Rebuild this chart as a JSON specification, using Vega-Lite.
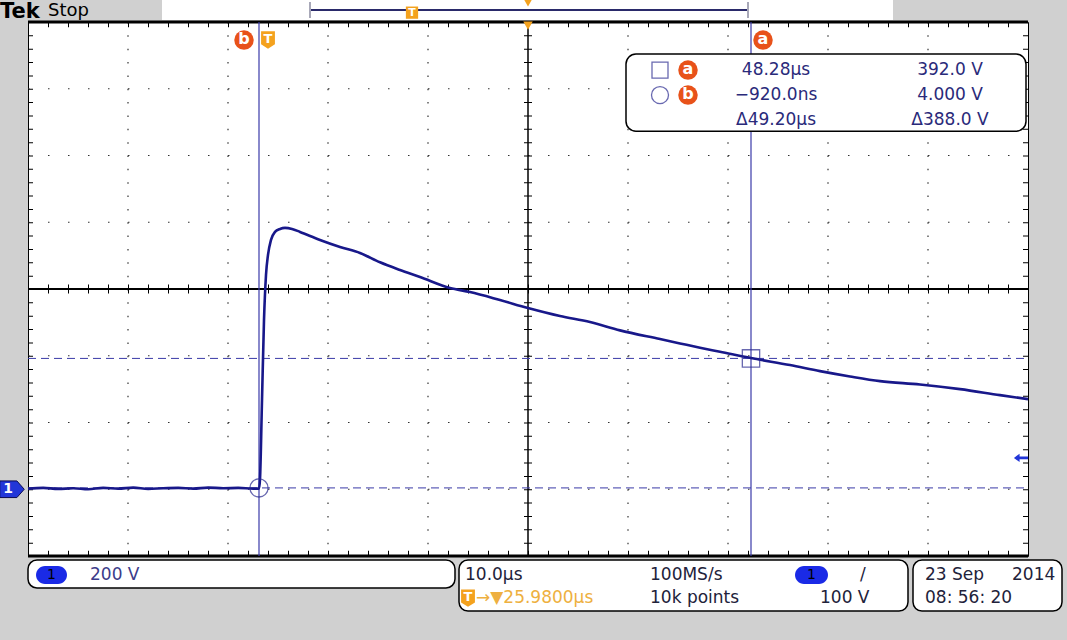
{
  "$schema": "https://vega.github.io/schema/vega-lite/v6.json",
  "autosize": "none",
  "width": 1000,
  "height": 534,
  "padding": {"left": 28, "top": 22, "right": 39, "bottom": 84},
  "background": "#d0d0d0",
  "config": {"view": {"fill": "white", "stroke": "black", "strokeWidth": 1}, "text": {"font": "DejaVu Sans"}},
  "datasets": {
    "one": [{}],
    "wave": [
      {"t": -24.02, "v": 2}, {"t": -22.5, "v": 4}, {"t": -21, "v": 1}, {"t": -19.5, "v": 3}, {"t": -18, "v": 0},
      {"t": -16.5, "v": 4}, {"t": -15, "v": 2}, {"t": -13.5, "v": 5}, {"t": -12, "v": 1}, {"t": -10.5, "v": 3},
      {"t": -9, "v": 4}, {"t": -7.5, "v": 2}, {"t": -6, "v": 5}, {"t": -4.5, "v": 3}, {"t": -3, "v": 4},
      {"t": -1.5, "v": 2}, {"t": -0.92, "v": 2}, {"t": -0.82, "v": 30}, {"t": -0.62, "v": 267}, {"t": -0.42, "v": 507},
      {"t": -0.22, "v": 642}, {"t": -0.02, "v": 702}, {"t": 0.28, "v": 747}, {"t": 0.68, "v": 771}, {"t": 1.18, "v": 780},
      {"t": 1.68, "v": 783}, {"t": 2.38, "v": 780}, {"t": 3.18, "v": 771}, {"t": 5.18, "v": 747}, {"t": 7.18, "v": 726},
      {"t": 9.18, "v": 708}, {"t": 11.18, "v": 680}, {"t": 13.18, "v": 657}, {"t": 15.18, "v": 636}, {"t": 18.18, "v": 603},
      {"t": 20.18, "v": 591}, {"t": 23.18, "v": 567}, {"t": 25.98, "v": 543}, {"t": 29.18, "v": 519}, {"t": 32.18, "v": 501},
      {"t": 35.18, "v": 476}, {"t": 39.18, "v": 450}, {"t": 41.18, "v": 437}, {"t": 43.18, "v": 424}, {"t": 45.18, "v": 412},
      {"t": 48.28, "v": 393}, {"t": 52.18, "v": 372}, {"t": 55.18, "v": 354}, {"t": 58.18, "v": 338}, {"t": 61.18, "v": 324},
      {"t": 65.18, "v": 314}, {"t": 69.18, "v": 300}, {"t": 73.18, "v": 282}, {"t": 75.98, "v": 270}
    ],
    "vgrid": [{"t": -14.02}, {"t": -4.02}, {"t": 5.98}, {"t": 15.98}, {"t": 35.98}, {"t": 45.98}, {"t": 55.98}, {"t": 65.98}],
    "hgrid": [{"v": 0}, {"v": 200}, {"v": 400}, {"v": 800}, {"v": 1000}, {"v": 1200}],
    "cursorV": [{"t": -0.92}, {"t": 48.28}],
    "cursorH": [{"v": 4}, {"v": 392}],
    "readout": [
      {"t": 50.78, "v": 1256, "label": "48.28µs"}, {"t": 68.18, "v": 1256, "label": "392.0 V"},
      {"t": 50.78, "v": 1181, "label": "−920.0ns"}, {"t": 68.18, "v": 1181, "label": "4.000 V"},
      {"t": 50.78, "v": 1106, "label": "Δ49.20µs"}, {"t": 68.18, "v": 1106, "label": "Δ388.0 V"}
    ],
    "letters": [
      {"t": -2.42, "v": 1346, "label": "b"}, {"t": 49.48, "v": 1346, "label": "a"},
      {"t": 41.98, "v": 1256, "label": "a"}, {"t": 41.98, "v": 1181, "label": "b"}
    ],
    "tmarks": [{"t": -0.02, "v": 1346}, {"t": 19.98, "v": -326}],
    "boxes": [
      {"t": -24.02, "t2": 18.68, "v": -212, "v2": -296},
      {"t": 19.08, "t2": 63.98, "v": -212, "v2": -365},
      {"t": 64.48, "t2": 79.38, "v": -212, "v2": -365}
    ],
    "badges": [
      {"t": -23.22, "t2": -20.12, "v": -230, "v2": -284, "tc": -21.67, "vc": -257},
      {"t": 52.68, "t2": 55.98, "v": -230, "v2": -284, "tc": 54.33, "vc": -257}
    ],
    "info": [
      {"t": 19.68, "v": -257, "label": "10.0µs"}, {"t": 38.18, "v": -257, "label": "100MS/s"},
      {"t": 38.18, "v": -326, "label": "10k points"}, {"t": 55.18, "v": -326, "label": "100 V"},
      {"t": 59.18, "v": -257, "label": "/"},
      {"t": 65.68, "v": -257, "label": "23 Sep"}, {"t": 74.38, "v": -257, "label": "2014"},
      {"t": 65.68, "v": -326, "label": "08: 56: 20"}
    ]
  },
  "layer": [
    {
      "data": {"name": "vgrid"},
      "mark": {"type": "rule", "color": "#333", "strokeWidth": 1.2, "strokeDash": [1.5, 11.85]},
      "encoding": {
        "x": {"field": "t", "type": "quantitative", "scale": {"domain": [-24.02, 75.98], "nice": false, "zero": false}, "axis": null},
        "y": {"datum": 1400, "type": "quantitative", "scale": {"domain": [-200, 1400], "nice": false, "zero": false}, "axis": null},
        "y2": {"datum": -200}
      }
    },
    {
      "data": {"name": "hgrid"},
      "mark": {"type": "rule", "color": "#333", "strokeWidth": 1.2, "strokeDash": [1.5, 18.5]},
      "encoding": {
        "y": {"field": "v", "type": "quantitative"},
        "x": {"datum": -24.02, "type": "quantitative"},
        "x2": {"datum": 75.98}
      }
    },
    {
      "data": {"name": "one"},
      "mark": {"type": "rule", "color": "black", "strokeWidth": 5, "strokeDash": [1, 19]},
      "encoding": {"y": {"datum": 1392, "type": "quantitative"}, "x": {"datum": -24.02, "type": "quantitative"}, "x2": {"datum": 75.98}}
    },
    {
      "data": {"name": "one"},
      "mark": {"type": "rule", "color": "black", "strokeWidth": 5, "strokeDash": [1, 19]},
      "encoding": {"y": {"datum": -192, "type": "quantitative"}, "x": {"datum": -24.02, "type": "quantitative"}, "x2": {"datum": 75.98}}
    },
    {
      "data": {"name": "one"},
      "mark": {"type": "rule", "color": "black", "strokeWidth": 5, "strokeDash": [1, 12.35]},
      "encoding": {"x": {"datum": -23.77, "type": "quantitative"}, "y": {"datum": 1400, "type": "quantitative"}, "y2": {"datum": -200}}
    },
    {
      "data": {"name": "one"},
      "mark": {"type": "rule", "color": "black", "strokeWidth": 5, "strokeDash": [1, 12.35]},
      "encoding": {"x": {"datum": 75.73, "type": "quantitative"}, "y": {"datum": 1400, "type": "quantitative"}, "y2": {"datum": -200}}
    },
    {
      "data": {"name": "one"},
      "mark": {"type": "rule", "color": "black", "strokeWidth": 2},
      "encoding": {"y": {"datum": 600, "type": "quantitative"}, "x": {"datum": -24.02, "type": "quantitative"}, "x2": {"datum": 75.98}}
    },
    {
      "data": {"name": "one"},
      "mark": {"type": "rule", "color": "black", "strokeWidth": 9, "strokeDash": [1, 19]},
      "encoding": {"y": {"datum": 600, "type": "quantitative"}, "x": {"datum": -24.02, "type": "quantitative"}, "x2": {"datum": 75.98}}
    },
    {
      "data": {"name": "one"},
      "mark": {"type": "rule", "color": "black", "strokeWidth": 1.5},
      "encoding": {"x": {"datum": 25.98, "type": "quantitative"}, "y": {"datum": 1400, "type": "quantitative"}, "y2": {"datum": -200}}
    },
    {
      "data": {"name": "one"},
      "mark": {"type": "rule", "color": "black", "strokeWidth": 8, "strokeDash": [1, 12.35]},
      "encoding": {"x": {"datum": 25.98, "type": "quantitative"}, "y": {"datum": 1400, "type": "quantitative"}, "y2": {"datum": -200}}
    },
    {
      "data": {"name": "one"},
      "mark": {"type": "rule", "color": "black", "strokeWidth": 3},
      "encoding": {"y": {"datum": 1400, "type": "quantitative"}, "x": {"datum": -24.02, "type": "quantitative"}, "x2": {"datum": 75.98}}
    },
    {
      "data": {"name": "one"},
      "mark": {"type": "rule", "color": "black", "strokeWidth": 3},
      "encoding": {"y": {"datum": -200, "type": "quantitative"}, "x": {"datum": -24.02, "type": "quantitative"}, "x2": {"datum": 75.98}}
    },
    {
      "data": {"name": "cursorH"},
      "mark": {"type": "rule", "color": "#3a3aa8", "strokeWidth": 1, "strokeDash": [8, 5]},
      "encoding": {"y": {"field": "v", "type": "quantitative"}, "x": {"datum": -24.02, "type": "quantitative"}, "x2": {"datum": 75.98}}
    },
    {
      "data": {"name": "cursorV"},
      "mark": {"type": "rule", "color": "#3a3aa8", "strokeWidth": 1.2},
      "encoding": {"x": {"field": "t", "type": "quantitative"}, "y": {"datum": 1400, "type": "quantitative"}, "y2": {"datum": -200}}
    },
    {
      "data": {"name": "wave"},
      "mark": {"type": "line", "color": "#18188a", "strokeWidth": 2.6, "interpolate": "monotone"},
      "encoding": {"x": {"field": "t", "type": "quantitative"}, "y": {"field": "v", "type": "quantitative"}}
    },
    {
      "data": {"values": [{"t": 48.28, "v": 392}]},
      "mark": {"type": "point", "shape": "square", "size": 300, "filled": false, "color": "#2a2a90", "strokeWidth": 1.3},
      "encoding": {"x": {"field": "t", "type": "quantitative"}, "y": {"field": "v", "type": "quantitative"}}
    },
    {
      "data": {"values": [{"t": -0.92, "v": 4}]},
      "mark": {"type": "point", "shape": "circle", "size": 330, "filled": false, "color": "#2a2a90", "strokeWidth": 1.3},
      "encoding": {"x": {"field": "t", "type": "quantitative"}, "y": {"field": "v", "type": "quantitative"}}
    },
    {
      "data": {"values": [{"t": 35.78, "t2": 75.78, "v": 1304, "v2": 1073}]},
      "mark": {"type": "rect", "fill": "white", "stroke": "black", "strokeWidth": 1.5, "cornerRadius": 10},
      "encoding": {"x": {"field": "t", "type": "quantitative"}, "x2": {"field": "t2"}, "y": {"field": "v", "type": "quantitative"}, "y2": {"field": "v2"}}
    },
    {
      "data": {"name": "readout"},
      "mark": {"type": "text", "fontSize": 17, "color": "#2a2a7a", "align": "center", "baseline": "middle"},
      "encoding": {"x": {"field": "t", "type": "quantitative"}, "y": {"field": "v", "type": "quantitative"}, "text": {"field": "label"}}
    },
    {
      "data": {"values": [{"t": 39.18, "v": 1256}]},
      "mark": {"type": "point", "shape": "square", "size": 256, "filled": false, "color": "#2a2a90", "strokeWidth": 1.3},
      "encoding": {"x": {"field": "t", "type": "quantitative"}, "y": {"field": "v", "type": "quantitative"}}
    },
    {
      "data": {"values": [{"t": 39.18, "v": 1181}]},
      "mark": {"type": "point", "shape": "circle", "size": 290, "filled": false, "color": "#2a2a90", "strokeWidth": 1.3},
      "encoding": {"x": {"field": "t", "type": "quantitative"}, "y": {"field": "v", "type": "quantitative"}}
    },
    {
      "data": {"name": "letters"},
      "mark": {"type": "point", "shape": "circle", "size": 380, "filled": true, "color": "#e8521a", "opacity": 1},
      "encoding": {"x": {"field": "t", "type": "quantitative"}, "y": {"field": "v", "type": "quantitative"}}
    },
    {
      "data": {"name": "letters"},
      "mark": {"type": "text", "fontSize": 16, "fontWeight": "bold", "color": "white", "align": "center", "baseline": "middle", "dy": -1},
      "encoding": {"x": {"field": "t", "type": "quantitative"}, "y": {"field": "v", "type": "quantitative"}, "text": {"field": "label"}}
    },
    {
      "data": {"values": [{"t": -10.62, "t2": 62.48, "v": 1466, "v2": 1406}]},
      "mark": {"type": "rect", "fill": "white"},
      "encoding": {"x": {"field": "t", "type": "quantitative"}, "x2": {"field": "t2"}, "y": {"field": "v", "type": "quantitative"}, "y2": {"field": "v2"}}
    },
    {
      "data": {"name": "one"},
      "mark": {"type": "rule", "color": "#2a2a6a", "strokeWidth": 2},
      "encoding": {"y": {"datum": 1436, "type": "quantitative"}, "x": {"datum": 4.18, "type": "quantitative"}, "x2": {"datum": 47.98}}
    },
    {
      "data": {"values": [{"t": 4.18}, {"t": 47.98}]},
      "mark": {"type": "rule", "color": "#a8a8b8", "strokeWidth": 2},
      "encoding": {"x": {"field": "t", "type": "quantitative"}, "y": {"datum": 1460, "type": "quantitative"}, "y2": {"datum": 1412}}
    },
    {
      "data": {"values": [{"t": 14.38, "v": 1428}]},
      "mark": {"type": "point", "shape": "square", "size": 150, "filled": true, "color": "#f4a21e", "opacity": 1},
      "encoding": {"x": {"field": "t", "type": "quantitative"}, "y": {"field": "v", "type": "quantitative"}}
    },
    {
      "data": {"values": [{"t": 14.38, "v": 1428}]},
      "mark": {"type": "text", "text": "T", "fontSize": 11, "fontWeight": "bold", "color": "white", "align": "center", "baseline": "middle"},
      "encoding": {"x": {"field": "t", "type": "quantitative"}, "y": {"field": "v", "type": "quantitative"}}
    },
    {
      "data": {"values": [{"t": 25.98, "v": 1459}, {"t": 25.98, "v": 1389}]},
      "mark": {"type": "point", "shape": "triangle-down", "size": 90, "filled": true, "color": "#f4a21e", "opacity": 1},
      "encoding": {"x": {"field": "t", "type": "quantitative"}, "y": {"field": "v", "type": "quantitative"}}
    },
    {
      "data": {"name": "boxes"},
      "mark": {"type": "rect", "fill": "white", "stroke": "black", "strokeWidth": 1.5, "cornerRadius": 9},
      "encoding": {"x": {"field": "t", "type": "quantitative"}, "x2": {"field": "t2"}, "y": {"field": "v", "type": "quantitative"}, "y2": {"field": "v2"}}
    },
    {
      "data": {"name": "tmarks"},
      "mark": {"type": "point", "shape": "M -0.8 -1 L 0.8 -1 L 0.8 0.5 L 0 1 L -0.8 0.5 Z", "size": 300, "filled": true, "color": "#f4a21e", "opacity": 1},
      "encoding": {"x": {"field": "t", "type": "quantitative"}, "y": {"field": "v", "type": "quantitative"}}
    },
    {
      "data": {"name": "tmarks"},
      "mark": {"type": "text", "text": "T", "fontSize": 13, "fontWeight": "bold", "color": "white", "align": "center", "baseline": "middle", "dy": -1},
      "encoding": {"x": {"field": "t", "type": "quantitative"}, "y": {"field": "v", "type": "quantitative"}}
    },
    {
      "data": {"name": "badges"},
      "mark": {"type": "rect", "fill": "#1a2ae6", "cornerRadius": 9},
      "encoding": {"x": {"field": "t", "type": "quantitative"}, "x2": {"field": "t2"}, "y": {"field": "v", "type": "quantitative"}, "y2": {"field": "v2"}}
    },
    {
      "data": {"name": "badges"},
      "mark": {"type": "text", "text": "1", "fontSize": 14, "color": "black", "align": "center", "baseline": "middle"},
      "encoding": {"x": {"field": "tc", "type": "quantitative"}, "y": {"field": "vc", "type": "quantitative"}}
    },
    {
      "data": {"values": [{"t": -17.82, "v": -257, "label": "200 V"}]},
      "mark": {"type": "text", "fontSize": 17, "color": "#3c3c8a", "align": "left", "baseline": "middle"},
      "encoding": {"x": {"field": "t", "type": "quantitative"}, "y": {"field": "v", "type": "quantitative"}, "text": {"field": "label"}}
    },
    {
      "data": {"name": "info"},
      "mark": {"type": "text", "fontSize": 17, "color": "#22223a", "align": "left", "baseline": "middle"},
      "encoding": {"x": {"field": "t", "type": "quantitative"}, "y": {"field": "v", "type": "quantitative"}, "text": {"field": "label"}}
    },
    {
      "data": {"values": [{"t": 20.78, "v": -326, "label": "→▼25.9800µs"}]},
      "mark": {"type": "text", "fontSize": 17, "color": "#eeb040", "align": "left", "baseline": "middle"},
      "encoding": {"x": {"field": "t", "type": "quantitative"}, "y": {"field": "v", "type": "quantitative"}, "text": {"field": "label"}}
    },
    {
      "data": {"values": [{"t": -25.62, "v": 0}]},
      "mark": {"type": "point", "shape": "M -1 -0.68 L 0.4 -0.68 L 1 0 L 0.4 0.68 L -1 0.68 Z", "size": 600, "filled": true, "color": "#2236d8", "opacity": 1, "stroke": "#0a0a50", "strokeWidth": 1},
      "encoding": {"x": {"field": "t", "type": "quantitative"}, "y": {"field": "v", "type": "quantitative"}}
    },
    {
      "data": {"values": [{"t": -26.0, "v": 0}]},
      "mark": {"type": "text", "text": "1", "fontSize": 14, "fontWeight": "bold", "color": "white", "align": "center", "baseline": "middle"},
      "encoding": {"x": {"field": "t", "type": "quantitative"}, "y": {"field": "v", "type": "quantitative"}}
    },
    {
      "data": {"values": [{"t": 75.28, "v": 94}]},
      "mark": {"type": "point", "shape": "M -1 0 L -0.2 -0.6 L -0.2 -0.2 L 1 -0.2 L 1 0.2 L -0.2 0.2 L -0.2 0.6 Z", "size": 200, "filled": true, "color": "#2236d8", "opacity": 1},
      "encoding": {"x": {"field": "t", "type": "quantitative"}, "y": {"field": "v", "type": "quantitative"}}
    },
    {
      "data": {"values": [{"t": -26.82, "v": 1431, "label": "Tek"}]},
      "mark": {"type": "text", "font": "DejaVu Sans", "fontSize": 21, "fontWeight": "bold", "color": "black", "align": "left", "baseline": "middle"},
      "encoding": {"x": {"field": "t", "type": "quantitative"}, "y": {"field": "v", "type": "quantitative"}, "text": {"field": "label"}}
    },
    {
      "data": {"values": [{"t": -22.02, "v": 1433, "label": "Stop"}]},
      "mark": {"type": "text", "fontSize": 18, "color": "black", "align": "left", "baseline": "middle"},
      "encoding": {"x": {"field": "t", "type": "quantitative"}, "y": {"field": "v", "type": "quantitative"}, "text": {"field": "label"}}
    }
  ]
}
